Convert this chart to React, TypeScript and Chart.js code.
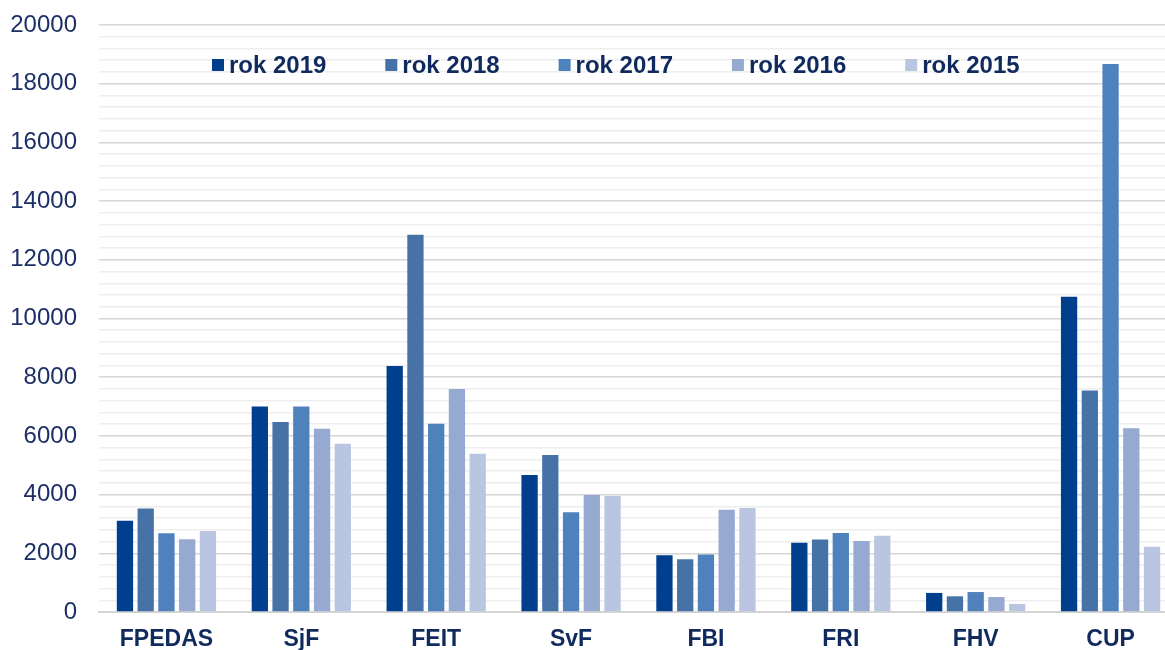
import React, { useEffect, useRef } from "react";
import { Chart, registerables } from "chart.js";

Chart.register(...registerables);

const categories = ["FPEDAS", "SjF", "FEIT", "SvF", "FBI", "FRI", "FHV", "CUP"];
const seriesLabels = ["rok 2019", "rok 2018", "rok 2017", "rok 2016", "rok 2015"];
const rok2019 = [3110, 7000, 8380, 4670, 1930, 2360, 650, 10740];
const rok2018 = [3530, 6470, 12850, 5350, 1800, 2470, 535, 7550];
const rok2017 = [2680, 7000, 6410, 3400, 1960, 2690, 680, 18670];
const rok2016 = [2480, 6240, 7600, 3990, 3480, 2420, 510, 6260];
const rok2015 = [2760, 5730, 5390, 3950, 3540, 2600, 275, 2220];
const seriesColors = ["#003f8e", "#4672a8", "#4f81bd", "#95a9d1", "#bac6e1"];

const FONT = "'Liberation Sans', Arial, sans-serif";

const overlayLegend = {
  id: "overlayLegend",
  afterDraw(chart: any) {
    const { ctx, chartArea } = chart;
    ctx.save();
    ctx.font = `bold 24px ${FONT}`;
    ctx.textBaseline = "middle";
    ctx.textAlign = "left";
    const y = chartArea.top + 40;
    chart.data.datasets.forEach((ds: any, i: number) => {
      const x = chartArea.left + 113 + i * 173.3;
      ctx.fillStyle = ds.backgroundColor;
      ctx.fillRect(x, y - 6, 12, 12);
      ctx.fillStyle = "#102a5e";
      ctx.fillText(ds.label, x + 17, y + 1);
    });
    ctx.restore();
  },
};

export default function App() {
  const ref = useRef<HTMLCanvasElement>(null);
  useEffect(() => {
    if (!ref.current) return;
    const data = [rok2019, rok2018, rok2017, rok2016, rok2015];
    const chart = new Chart(ref.current, {
      type: "bar",
      data: {
        labels: categories,
        datasets: seriesLabels.map((l, i) => ({
          label: l,
          data: data[i],
          backgroundColor: seriesColors[i],
          categoryPercentage: 0.769,
          barPercentage: 0.785,
        })),
      },
      options: {
        responsive: false,
        animation: false,
        layout: { padding: { top: 25, right: 0, left: 0, bottom: 0 } },
        plugins: {
          legend: { display: false },
          tooltip: { enabled: false },
        },
        scales: {
          x: {
            grid: { display: false, drawTicks: false },
            border: { display: true, color: "#d4d4d4", width: 2 },
            ticks: {
              color: "#102a5e",
              font: { family: FONT, size: 23, weight: "bold" },
              padding: 14,
            },
            afterFit: (s: any) => {
              s.height = 38;
              s.paddingLeft = 0;
              s.paddingRight = 0;
            },
          },
          y: {
            min: 0,
            max: 20000,
            border: { display: false },
            grid: {
              drawTicks: false,
              color: (c: any) =>
                c.tick && c.tick.value % 2000 === 0 ? "#d6d6d6" : "#eeeeee",
              lineWidth: 1.5,
            },
            ticks: {
              stepSize: 400,
              autoSkip: false,
              color: "#1c2f66",
              font: { family: FONT, size: 24 },
              padding: 22,
              callback: (v: any) => (Number(v) % 2000 === 0 ? String(v) : ""),
            },
            afterFit: (s: any) => {
              s.width = 99;
              s.paddingTop = 0;
              s.paddingBottom = 0;
            },
          },
        },
      },
      plugins: [overlayLegend],
    } as any);
    return () => chart.destroy();
  }, []);
  return (
    <div
      style={{
        position: "absolute",
        left: 0,
        top: 0,
        width: 1165,
        height: 650,
        overflow: "hidden",
        background: "#fff",
      }}
    >
      <canvas ref={ref} width={1178} height={650} />
    </div>
  );
}
